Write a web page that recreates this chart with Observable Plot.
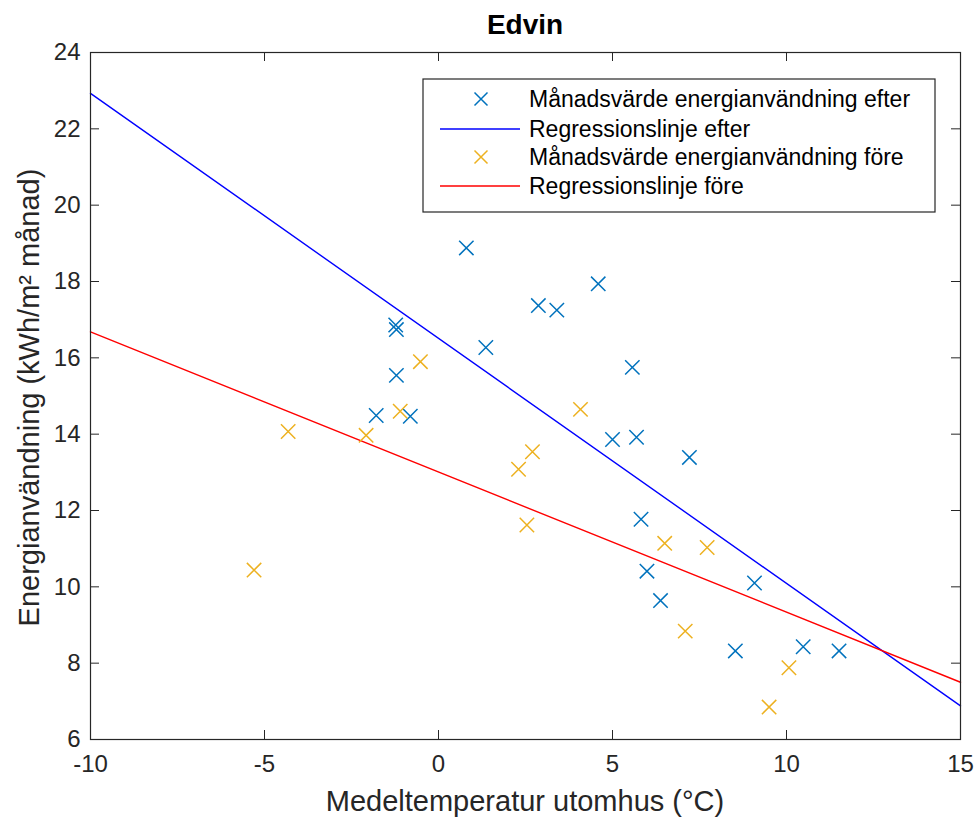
<!DOCTYPE html>
<html>
<head>
<meta charset="utf-8">
<script src="https://cdn.jsdelivr.net/npm/d3@7"></script>
<script src="https://cdn.jsdelivr.net/npm/@observablehq/plot@0.6"></script>
<style>
  html, body { margin: 0; padding: 0; background: #fff; }
  #chart { width: 979px; height: 821px; }
  svg { font-family: "Liberation Sans", Arial, Helvetica, sans-serif; }
</style>
</head>
<body>
<div id="chart"></div>
<script>
// ---- Data ----
const afterTemp = [0.80, 2.87, 3.40, 4.59, -1.23, -1.21, 1.36, -1.21, -1.79, -0.81, 5.57, 5.00, 5.69, 7.21, 5.82, 5.99, 6.38, 9.08, 8.53, 10.48, 11.51];
const afterEnergy = [18.88, 17.37, 17.25, 17.94, 16.86, 16.74, 16.27, 15.54, 14.49, 14.47, 15.75, 13.86, 13.92, 13.39, 11.77, 10.41, 9.64, 10.10, 8.32, 8.43, 8.32];

const beforeTemp = [-0.52, -1.10, -4.32, -2.08, -5.30, 4.08, 2.70, 2.30, 2.54, 6.50, 7.72, 7.09, 10.07, 9.50];
const beforeEnergy = [15.90, 14.60, 14.07, 13.97, 10.44, 14.65, 13.54, 13.08, 11.62, 11.14, 11.03, 8.84, 7.88, 6.85];

const regTemp = [-10, 15];
const regAfter = [22.93, 6.88];
const regBefore = [16.68, 7.50];

const xTicks = [-10, -5, 0, 5, 10, 15];
const yTicks = [6, 8, 10, 12, 14, 16, 18, 20, 22, 24];

const title = "Edvin";
const xLabel = "Medeltemperatur utomhus (°C)";
const yLabel = "Energianvändning (kWh/m² månad)";
const legendLabels = [
  "Månadsvärde energianvändning efter",
  "Regressionslinje efter",
  "Månadsvärde energianvändning före",
  "Regressionslinje före"
];

// ---- Tables built from arrays ----
const afterPts = afterTemp.map((t, i) => ({t, e: afterEnergy[i]}));
const beforePts = beforeTemp.map((t, i) => ({t, e: beforeEnergy[i]}));
const regA = regTemp.map((t, i) => ({t, e: regAfter[i]}));
const regB = regTemp.map((t, i) => ({t, e: regBefore[i]}));

const W = 979, H = 821;
const mL = 90, mR = 19, mT = 52, mB = 82;
const fw = W - mL - mR, fh = H - mT - mB;
const axisColor = "#262626";
const tickLen = 9;
const cBlue = "#0072BD", cOrange = "#EDB120";
const fmt = d => String(d); // hyphen-minus like the reference

const chart = Plot.plot({
  width: W, height: H,
  marginLeft: mL, marginRight: mR, marginTop: mT, marginBottom: mB,
  x: {domain: [-10, 15]},
  y: {domain: [6, 24]},
  style: {fontFamily: '"Liberation Sans", Arial, sans-serif', background: "#fff"},
  marks: [
    Plot.line(regA, {x: "t", y: "e", stroke: "#0000FF", strokeWidth: 1.4}),
    Plot.line(regB, {x: "t", y: "e", stroke: "#FF0000", strokeWidth: 1.4}),
    Plot.dot(afterPts, {x: "t", y: "e", symbol: "times", r: 6.6, stroke: cBlue, strokeWidth: 1.5}),
    Plot.dot(beforePts, {x: "t", y: "e", symbol: "times", r: 6.6, stroke: cOrange, strokeWidth: 1.5}),
    // inward ticks on all four sides
    Plot.tickX(xTicks, {x: d => d, insetTop: fh - tickLen, stroke: axisColor}),
    Plot.tickX(xTicks, {x: d => d, insetBottom: fh - tickLen, stroke: axisColor}),
    Plot.tickY(yTicks, {y: d => d, insetRight: fw - tickLen, stroke: axisColor}),
    Plot.tickY(yTicks, {y: d => d, insetLeft: fw - tickLen, stroke: axisColor}),
    Plot.axisX({ticks: xTicks, tickFormat: fmt, tickSize: 0, tickPadding: 15, fontSize: 24, color: axisColor, label: null}),
    Plot.axisY({ticks: yTicks, tickFormat: fmt, tickSize: 0, tickPadding: 10, fontSize: 24, color: axisColor, label: null}),
    Plot.frame({stroke: axisColor, strokeWidth: 1.2})
  ]
});
document.getElementById("chart").appendChild(chart);

const svg = d3.select(chart);
const font = '"Liberation Sans", Arial, sans-serif';

// Title
svg.append("text")
  .attr("x", mL + fw / 2).attr("y", 24)
  .attr("text-anchor", "middle").attr("dominant-baseline", "central")
  .attr("font-family", font).attr("font-size", 28).attr("font-weight", "bold")
  .attr("fill", "#000").text(title);

// X label
svg.append("text")
  .attr("x", mL + fw / 2).attr("y", 801)
  .attr("text-anchor", "middle").attr("dominant-baseline", "central")
  .attr("font-family", font).attr("font-size", 29)
  .attr("fill", axisColor).text(xLabel);

// Y label
svg.append("text")
  .attr("transform", `translate(29, ${mT + fh / 2 + 2}) rotate(-90)`)
  .attr("text-anchor", "middle").attr("dominant-baseline", "central")
  .attr("font-family", font).attr("font-size", 29)
  .attr("fill", axisColor).text(yLabel);

// Legend
const lg = svg.append("g");
lg.append("rect").attr("x", 423).attr("y", 79).attr("width", 512).attr("height", 133)
  .attr("fill", "#fff").attr("stroke", axisColor).attr("stroke-width", 1.2);
const rowsY = [99, 129, 157, 186];
const kinds = [
  {type: "x", color: cBlue},
  {type: "l", color: "#0000FF"},
  {type: "x", color: cOrange},
  {type: "l", color: "#FF0000"}
];
kinds.forEach((k, i) => {
  const y = rowsY[i];
  if (k.type === "l") {
    lg.append("line").attr("x1", 440).attr("x2", 520).attr("y1", y).attr("y2", y)
      .attr("stroke", k.color).attr("stroke-width", 1.4);
  } else {
    const s = 6.5;
    lg.append("path").attr("d", `M${481 - s},${y - s}L${481 + s},${y + s}M${481 - s},${y + s}L${481 + s},${y - s}`)
      .attr("stroke", k.color).attr("stroke-width", 1.5).attr("fill", "none");
  }
  lg.append("text").attr("x", 529).attr("y", y)
    .attr("text-anchor", "start")
    .attr("dominant-baseline", "central")
    .attr("font-family", font).attr("font-size", 23)
    .attr("fill", "#000").text(legendLabels[i]);
});
</script>
</body>
</html>
